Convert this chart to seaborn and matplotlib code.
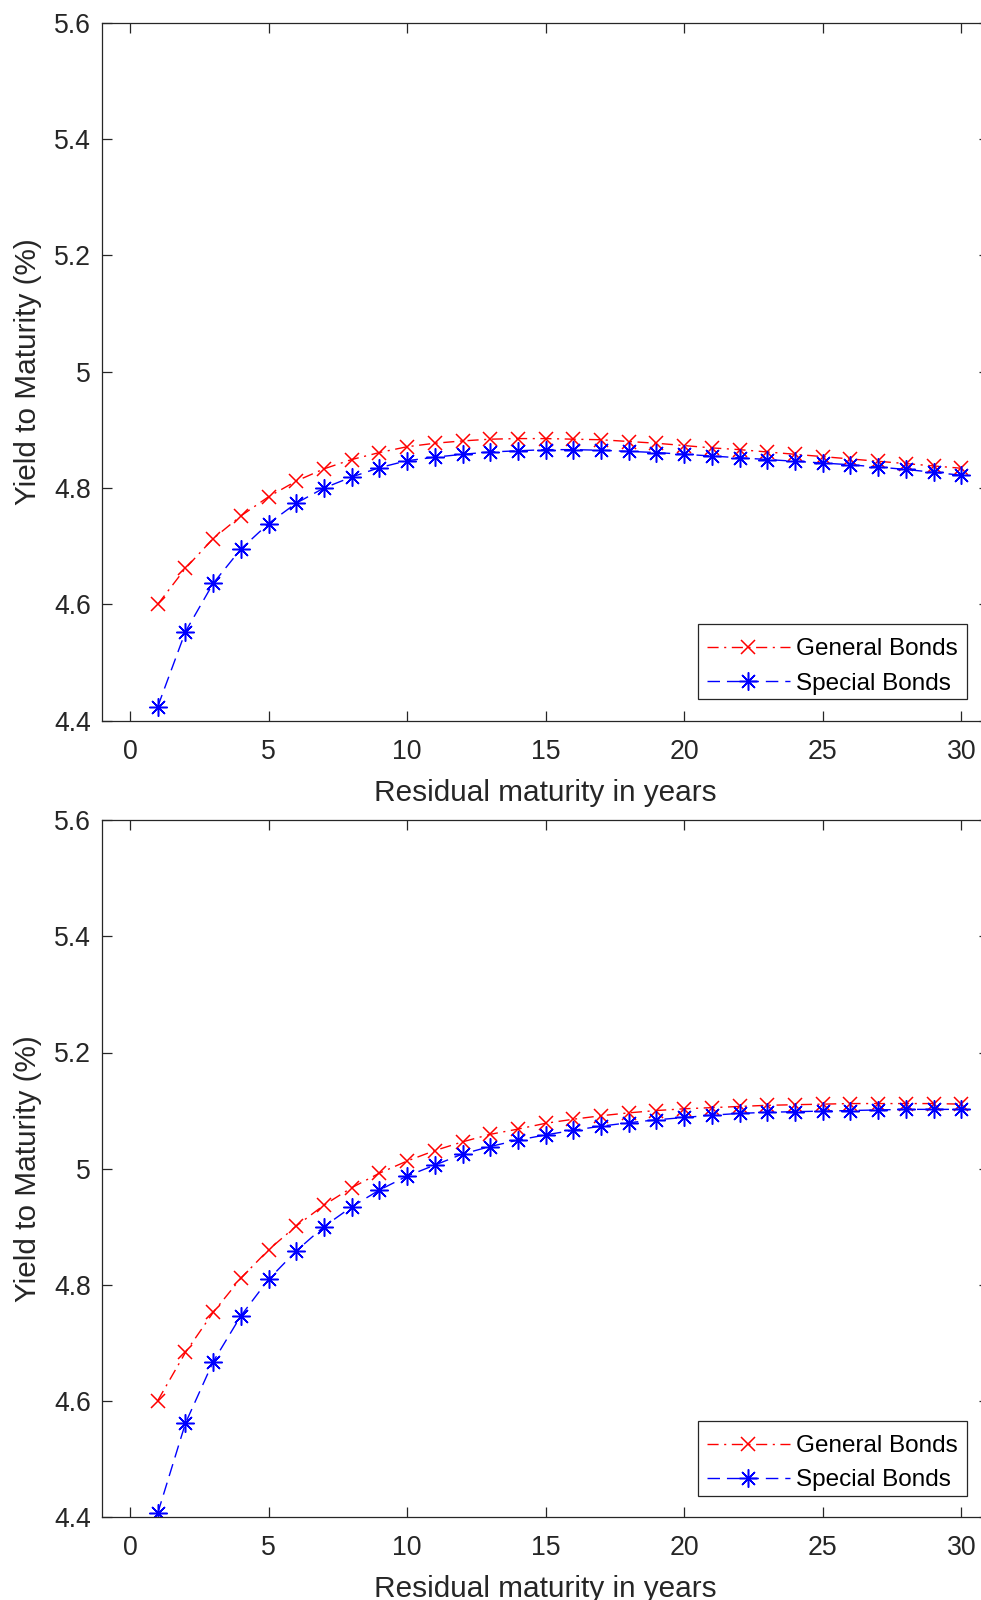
import matplotlib
matplotlib.use("Agg")
import matplotlib.pyplot as plt
from matplotlib.patches import Rectangle
import seaborn as sns
import pandas as pd

# ---------------- data ----------------
maturity = list(range(1, 31))
general_top = [4.600, 4.662, 4.713, 4.752, 4.785, 4.812, 4.833, 4.849, 4.861, 4.871,
               4.877, 4.881, 4.884, 4.885, 4.885, 4.884, 4.883, 4.880, 4.877, 4.873,
               4.869, 4.866, 4.862, 4.858, 4.854, 4.850, 4.846, 4.842, 4.838, 4.834]
special_top = [4.424, 4.553, 4.636, 4.695, 4.739, 4.774, 4.800, 4.819, 4.835, 4.847,
               4.853, 4.858, 4.862, 4.864, 4.866, 4.866, 4.865, 4.863, 4.861, 4.858,
               4.855, 4.852, 4.849, 4.846, 4.843, 4.840, 4.836, 4.832, 4.827, 4.822]
general_bottom = [4.600, 4.683, 4.752, 4.811, 4.860, 4.901, 4.937, 4.967, 4.992, 5.013,
                  5.031, 5.046, 5.059, 5.068, 5.078, 5.085, 5.091, 5.096, 5.100, 5.103,
                  5.105, 5.107, 5.109, 5.110, 5.111, 5.112, 5.112, 5.112, 5.112, 5.111]
special_bottom = [4.406, 4.561, 4.667, 4.746, 4.809, 4.858, 4.900, 4.934, 4.963, 4.987,
                  5.006, 5.025, 5.038, 5.049, 5.058, 5.066, 5.073, 5.079, 5.084, 5.088,
                  5.092, 5.095, 5.097, 5.098, 5.099, 5.100, 5.101, 5.102, 5.102, 5.102]

series_labels = ["General Bonds", "Special Bonds"]
x_ticks = [0, 5, 10, 15, 20, 25, 30]
y_ticks = [4.4, 4.6, 4.8, 5.0, 5.2, 5.4, 5.6]
y_tick_labels = ["4.4", "4.6", "4.8", "5", "5.2", "5.4", "5.6"]
x_label = "Residual maturity in years"
y_label = "Yield to Maturity (%)"

# ---------------- style ----------------
sns.set_style("ticks")
plt.rcParams["font.family"] = ["Liberation Sans", "DejaVu Sans"]
plt.rcParams["axes.linewidth"] = 0.9

DARK = "#262626"

fig = plt.figure(figsize=(9.81, 16), dpi=100)
W, H = 981.0, 1600.0
ax_left = 102.3 / W
ax_width = (989.0 - 102.3) / W
ax_top = fig.add_axes([ax_left, 1 - 720.7 / H, ax_width, (720.7 - 22.7) / H])
ax_bot = fig.add_axes([ax_left, 1 - 1516.7 / H, ax_width, (1516.7 - 820.4) / H])

# legend box (left, top, right, bottom) in pixels
panels = [
    (ax_top, general_top, special_top, (697.7, 624.3, 967.3, 699.3)),
    (ax_bot, general_bottom, special_bottom, (697.7, 1420.7, 967.3, 1496.0)),
]

styles = [
    dict(color=(1, 0, 0), ls=(0, (8, 4, 1.5, 4)), marker="x", ms=10),
    dict(color=(0, 0, 1), ls=(0, (9, 5)), marker=(8, 2, 0), ms=13),
]

for ax, gen, spe, box in panels:
    df = pd.DataFrame({"maturity": maturity, series_labels[0]: gen,
                       series_labels[1]: spe})
    handles = []
    for lab, st in zip(series_labels, styles):
        n_before = len(ax.lines)
        sns.lineplot(data=df, x="maturity", y=lab, ax=ax, color=st["color"],
                     linewidth=1.0, legend=False)
        line = ax.lines[n_before]
        line.set_linestyle(st["ls"])
        line.set_marker(st["marker"])
        line.set_markersize(st["ms"])
        line.set_markeredgewidth(1.1)
        line.set_markeredgecolor(st["color"])
        line.set_markerfacecolor(st["color"])
        line.set_label(lab)
        handles.append(line)

    ax.set_xlim(-1, 31)
    ax.set_ylim(4.4, 5.6)
    ax.set_xticks(x_ticks)
    ax.set_xticklabels([str(t) for t in x_ticks])
    ax.set_yticks(y_ticks)
    ax.set_yticklabels(y_tick_labels)
    ax.tick_params(axis="both", direction="in", length=7.2, width=0.9,
                   colors=DARK, labelsize=19.2, top=True, right=True)
    ax.tick_params(axis="x", pad=13)
    ax.tick_params(axis="y", pad=8)
    for sp in ax.spines.values():
        sp.set_visible(True)
        sp.set_color(DARK)
        sp.set_linewidth(0.9)
    ax.set_xlabel(x_label, fontsize=21.4, color=DARK, labelpad=10)
    ax.set_ylabel(y_label, fontsize=21.4, color=DARK, labelpad=9)
    ax.grid(False)

    bl, bt, br, bb = box
    rect = Rectangle((bl / W, 1 - bb / H), (br - bl) / W, (bb - bt) / H,
                     transform=fig.transFigure, facecolor="white",
                     edgecolor=DARK, linewidth=0.9, zorder=4, clip_on=False)
    ax.add_patch(rect)
    leg = ax.legend(handles=handles, labels=series_labels, loc="lower right",
                    bbox_to_anchor=(br / W, 1 - (bb + 5) / H),
                    bbox_transform=fig.transFigure, borderaxespad=0,
                    fontsize=17.5, handlelength=3.4, handletextpad=0.25,
                    borderpad=0.4, labelspacing=0.5, numpoints=1,
                    frameon=False)
    leg.set_zorder(6)
    for t in leg.get_texts():
        t.set_color("black")

fig.savefig("out.png", dpi=100)
